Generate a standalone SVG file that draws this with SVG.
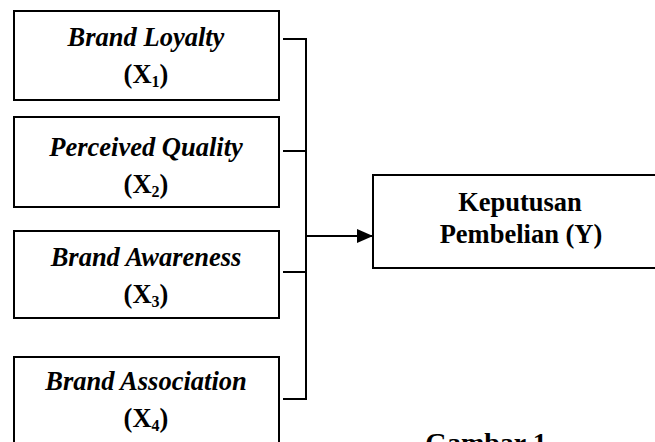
<svg xmlns="http://www.w3.org/2000/svg" width="655" height="442" viewBox="0 0 655 442">
<style>
.box{fill:#fff;stroke:#000;stroke-width:2}
.lbl{font-family:"Liberation Serif","Times New Roman",serif;font-size:26.5px;font-weight:bold;text-anchor:middle;fill:#000}
.it{font-style:italic}
.sub{font-size:16px}
.con{stroke:#000;stroke-width:2;fill:none}
</style>
<defs>
<marker id="arr" markerWidth="16" markerHeight="14" refX="16" refY="7" orient="auto" markerUnits="userSpaceOnUse">
<path d="M0,0 L16,7 L0,14 Z" fill="#000"/>
</marker>
</defs>
<rect width="655" height="442" fill="#fff"/>
<g id="x1">
<rect class="box" x="14" y="11" width="265" height="89"/>
<text class="lbl it" x="146" y="46">Brand Loyalty</text>
<text class="lbl" x="146" y="83">(X<tspan class="sub" dy="4">1</tspan><tspan dy="-4">)</tspan></text>
</g>
<g id="x2">
<rect class="box" x="14" y="117" width="265" height="90"/>
<text class="lbl it" x="146" y="156">Perceived Quality</text>
<text class="lbl" x="146" y="193">(X<tspan class="sub" dy="4">2</tspan><tspan dy="-4">)</tspan></text>
</g>
<g id="x3">
<rect class="box" x="14" y="231" width="265" height="87"/>
<text class="lbl it" x="146" y="266">Brand Awareness</text>
<text class="lbl" x="146" y="303">(X<tspan class="sub" dy="4">3</tspan><tspan dy="-4">)</tspan></text>
</g>
<g id="x4">
<rect class="box" x="14" y="357" width="265" height="100"/>
<text class="lbl it" x="146" y="390">Brand Association</text>
<text class="lbl" x="146" y="427">(X<tspan class="sub" dy="4">4</tspan><tspan dy="-4">)</tspan></text>
</g>
<g id="y">
<rect class="box" x="373" y="175" width="300" height="93"/>
<text class="lbl" x="520" y="211">Keputusan</text>
<text class="lbl" x="521" y="243">Pembelian (Y)</text>
</g>
<g id="connectors">
<path class="con" d="M283,39 H306 M283,151 H306 M283,272 H306 M283,399 H306 M306,38 V400"/>
<path class="con" d="M306,236 H373" marker-end="url(#arr)"/>
</g>
<text class="lbl" x="486" y="452" style="font-size:28px">Gambar 1</text>
</svg>
